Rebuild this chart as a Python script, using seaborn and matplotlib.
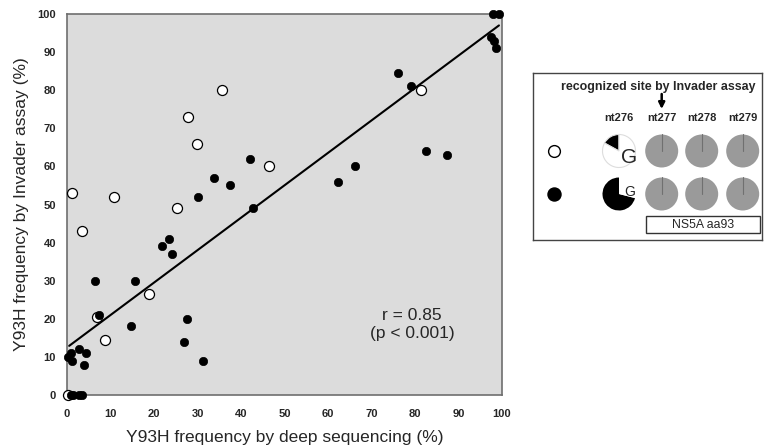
import matplotlib
matplotlib.use("Agg")
import matplotlib.pyplot as plt
import numpy as np
import pandas as pd
import seaborn as sns

# Y93H frequency: deep sequencing (x) vs Invader assay (y), in %
open_x = [1.2, 10.8, 27.8, 29.8, 35.6, 46.4, 81.4, 3.4, 25.2, 18.8, 8.7, 6.8, 0.3]
open_y = [53, 52, 73, 66, 80, 60, 80, 43, 49, 26.5, 14.5, 20.6, 0]

filled_x = [76.2, 79.1, 82.5, 87.3, 62.2, 66.1, 42.1, 33.7, 37.5, 30.0,
            98.0, 99.3, 97.4, 98.2, 98.6, 42.7, 21.8, 23.5, 24.1, 6.4,
            15.6, 7.3, 14.6, 27.5, 26.8, 31.3, 2.8, 4.4, 1.0, 0.3,
            1.2, 4.0, 0.9, 1.4, 2.8, 3.4]
filled_y = [84.5, 81, 64, 63, 56, 60, 62, 57, 55, 52,
            100, 100, 94, 93, 91.2, 49, 39, 41, 37, 30,
            30, 21, 18, 20, 14, 9, 12, 11, 11, 10,
            9, 8, 0, 0, 0, 0]

# regression line
fit_x = [0.5, 99.3]
fit_y = [12.9, 97.0]

x_ticks = list(range(0, 101, 10))
y_ticks = list(range(0, 101, 10))

# legend panel data
sites = ["nt276", "nt277", "nt278", "nt279"]
g_open = [17, 83]     # black / white share at nt276, open-circle group
g_filled = [71, 29]   # black / white share at nt276, filled-circle group

open_df = pd.DataFrame({"deep": open_x, "invader": open_y})
filled_df = pd.DataFrame({"deep": filled_x, "invader": filled_y})

sns.set_theme(style="white")
plt.rcParams["font.family"] = ["Liberation Sans", "DejaVu Sans"]

fig = plt.figure(figsize=(7.65, 4.48), dpi=100)
ax = fig.add_axes([67 / 765, 1 - 395 / 448, 435 / 765, 381 / 448])
ax.set_facecolor("#dcdcdc")

ax.plot(fit_x, fit_y, color="black", lw=1.5, zorder=2)
sns.scatterplot(data=open_df, x="deep", y="invader", ax=ax, s=52, color="white",
                edgecolor="black", linewidth=0.9, zorder=3, clip_on=False)
sns.scatterplot(data=filled_df, x="deep", y="invader", ax=ax, s=36, color="black",
                edgecolor="black", linewidth=0.5, zorder=4, clip_on=False)

ax.set_xlim(0, 100)
ax.set_ylim(0, 100)
ax.set_xticks(x_ticks)
ax.set_yticks(y_ticks)
ax.tick_params(direction="in", length=3, width=0.6, color="#b0b0b0",
               labelsize=8)
ax.tick_params(axis="x", pad=10)
ax.tick_params(axis="y", pad=8)
for lab in ax.get_xticklabels() + ax.get_yticklabels():
    lab.set_fontweight("bold")
for sp in ax.spines.values():
    sp.set_color("#6e6e6e")
    sp.set_linewidth(1.2)

ax.set_xlabel("Y93H frequency by deep sequencing (%)", fontsize=12.5, labelpad=8)
ax.set_ylabel("Y93H frequency by Invader assay (%)", fontsize=12.5, labelpad=6)
ax.text(79.3, 18.5, "r = 0.85\n(p < 0.001)", fontsize=12.5, ha="center",
        va="center", linespacing=1.3)

# legend panel, in pixel units (y negated so that up is up)
lg = fig.add_axes([533 / 765, 1 - 240 / 448, 229 / 765, 167 / 448])
lg.set_facecolor("white")

lg.text(658, -87, "recognized site by Invader assay", fontsize=8.9,
        fontweight="bold", ha="center", va="center")
lg.annotate("", xy=(661.7, -109), xytext=(661.7, -94),
            arrowprops=dict(arrowstyle="-|>", color="black", lw=1.8,
                            mutation_scale=9, shrinkA=0, shrinkB=0))
site_x = [619, 661.7, 701.7, 742.7]
for sx, name in zip(site_x, sites):
    lg.text(sx, -117.5, name, fontsize=8, fontweight="bold", ha="center",
            va="center")

row_y = [-151, -194]
r = 16.5
lg.scatter([554], [row_y[0]], s=72, color="white", edgecolor="black",
           linewidth=1.0, zorder=3)
lg.scatter([554], [row_y[1]], s=88, color="black", zorder=3)

lg.pie(g_open, colors=["black", "white"], startangle=90, counterclock=True,
       center=(site_x[0], row_y[0]), radius=r, frame=True,
       wedgeprops=dict(edgecolor="#dddddd", linewidth=0.8))
lg.pie(g_filled, colors=["black", "white"], startangle=90, counterclock=True,
       center=(site_x[0], row_y[1]), radius=r, frame=True,
       wedgeprops=dict(linewidth=0))
for yy in row_y:
    for sx in site_x[1:]:
        lg.pie([100], colors=["#9a9a9a"], startangle=90, center=(sx, yy),
               radius=r, frame=True, wedgeprops=dict(linewidth=0))
        lg.plot([sx, sx], [yy, yy + r], color="#707070", lw=0.8)

lg.text(629, -157, "G", fontsize=15, ha="center", va="center")
lg.text(630, -191.5, "G", fontsize=10, ha="center", va="center")
lg.add_patch(plt.Rectangle((646, -233), 114, 17, fill=False,
                           edgecolor="#333333", lw=1.0))
lg.text(703, -224.5, "NS5A aa93", fontsize=8.8, ha="center", va="center")

lg.set_xlim(533, 762)
lg.set_ylim(-240, -73)
lg.set_aspect("equal")
lg.set_xticks([])
lg.set_yticks([])
lg.set_frame_on(True)
for sp in lg.spines.values():
    sp.set_color("#444444")
    sp.set_linewidth(1.0)

fig.savefig("out.png", dpi=100)
